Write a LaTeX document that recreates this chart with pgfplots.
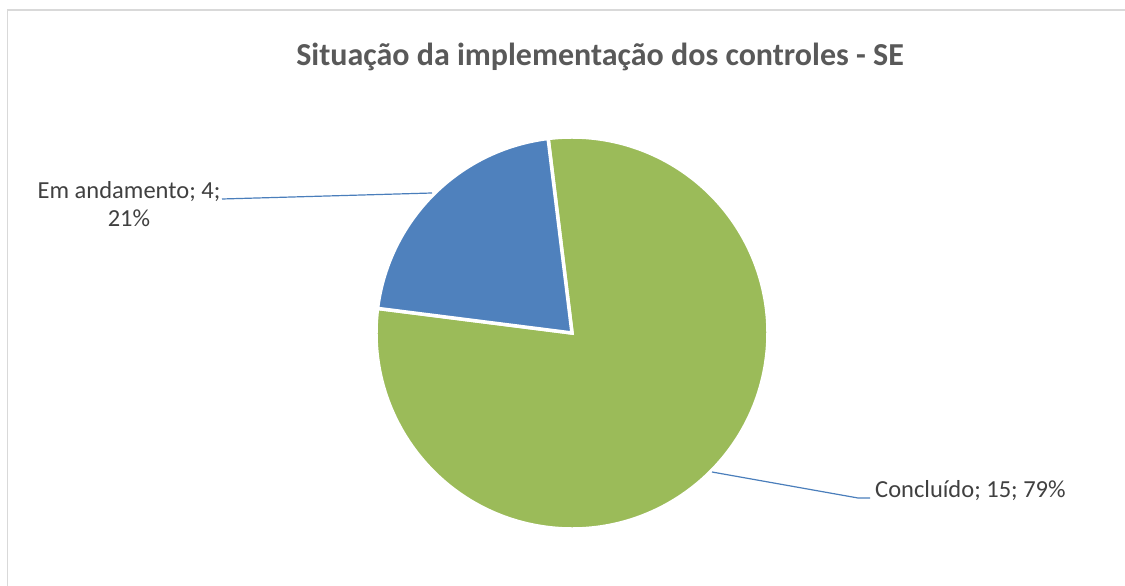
\documentclass[border=0pt]{standalone}
\usepackage{pgfplots}
\pgfplotsset{compat=1.18}
\usepackage{pgfplotstable}
\usepackage{fontspec}
\setmainfont{Carlito}
\definecolor{pblue}{HTML}{4F81BD}
\definecolor{pgreen}{HTML}{9BBB59}
\definecolor{lead}{HTML}{4A7EBB}
\definecolor{txt}{HTML}{404040}
\definecolor{ttl}{HTML}{595959}
\definecolor{brd}{HTML}{D9D9D9}
\pgfplotstableread{
idx value
0 15
1 4
}\piedata
\begin{document}
\begin{tikzpicture}
\pgfplotstablegetelem{0}{value}\of\piedata \let\vA\pgfplotsretval
\pgfplotstablegetelem{1}{value}\of\piedata \let\vB\pgfplotsretval
\pgfmathsetmacro\tot{\vA+\vB}
\pgfmathsetmacro\startang{97}
\pgfmathsetmacro\angB{360*\vB/\tot}
\pgfmathsetmacro\endB{\startang+\angB}
\pgfmathsetmacro\endA{\startang+360}
\begin{axis}[name=ax, hide axis, scale only axis, width=1125bp, height=586bp,
  xmin=0, xmax=1125, ymin=0, ymax=586, clip=false]
% slices
\fill[pgreen, draw=white, line width=3.5bp, line join=miter]
  (axis cs:572,253) -- ++(\endB:196bp) arc[start angle=\endB, end angle=\endA, radius=196bp] -- cycle;
\fill[pblue, draw=white, line width=3.5bp, line join=miter]
  (axis cs:572,253) -- ++(\startang:196bp) arc[start angle=\startang, end angle=\endB, radius=196bp] -- cycle;
% leader lines
\draw[lead, line width=1.2bp] (axis cs:222,387) -- (axis cs:432,393);
\draw[lead, line width=1.2bp] (axis cs:712,114) -- (axis cs:858,88) -- (axis cs:870,88);
% labels
\node[anchor=base, text=txt, font=\fontsize{24.5bp}{28bp}\selectfont, inner sep=0pt] at (axis cs:129,387) {Em andamento; 4;};
\node[anchor=base, text=txt, font=\fontsize{24.5bp}{28bp}\selectfont, inner sep=0pt] at (axis cs:129,359) {21\%};
\node[anchor=base west, text=txt, font=\fontsize{24.5bp}{28bp}\selectfont, inner sep=0pt] at (axis cs:875,88) {Concluído; 15; 79\%};
% title
\node[anchor=base, text=ttl, font=\fontsize{32bp}{36bp}\selectfont\bfseries, inner sep=0pt] at (axis cs:600,520) {Situação da implementação dos controles - SE};
% border
\draw[brd, line width=1.5bp] (axis cs:7.5,-10) -- (axis cs:7.5,576) -- (axis cs:1135,576);
\end{axis}
\pgfresetboundingbox
\path[use as bounding box] (ax.south west) rectangle (ax.north east);
\end{tikzpicture}
\end{document}
